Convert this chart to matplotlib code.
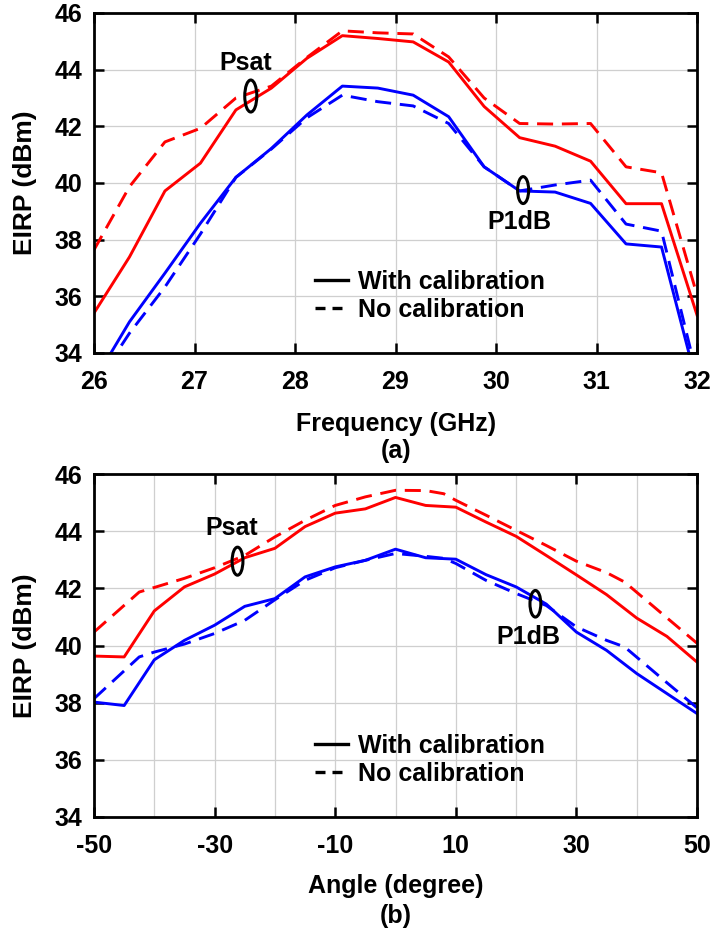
import matplotlib
matplotlib.use('Agg')
import matplotlib.pyplot as plt
from matplotlib.patches import Ellipse
from matplotlib.lines import Line2D

plt.rcParams['font.family'] = ['Liberation Sans', 'DejaVu Sans']
plt.rcParams['font.weight'] = 'bold'
plt.rcParams['axes.unicode_minus'] = False

# ---------------- data: (a) EIRP vs frequency ----------------
freq = [26.0, 26.353, 26.706, 27.059, 27.412, 27.765, 28.118, 28.471, 28.824,
        29.176, 29.529, 29.882, 30.235, 30.588, 30.941, 31.294, 31.647, 32.0]
psat_cal_f = [35.41, 37.39, 39.72, 40.70, 42.58, 43.35, 44.40, 45.20, 45.10,
              44.98, 44.27, 42.70, 41.60, 41.30, 40.77, 39.27, 39.27, 35.34]
psat_nocal_f = [37.64, 39.87, 41.45, 41.93, 43.00, 43.42, 44.43, 45.37, 45.30,
                45.26, 44.45, 43.00, 42.10, 42.08, 42.10, 40.57, 40.36, 36.05]
p1db_cal_f = [33.00, 35.10, 36.82, 38.58, 40.20, 41.22, 42.40, 43.42, 43.35,
              43.10, 42.34, 40.57, 39.72, 39.68, 39.28, 37.85, 37.74, 32.90]
p1db_nocal_f = [32.80, 34.70, 36.33, 38.20, 40.20, 41.20, 42.30, 43.10, 42.87,
                42.72, 42.10, 40.57, 39.72, 39.93, 40.10, 38.55, 38.30, 33.20]

# ---------------- data: (b) EIRP vs angle ----------------
angle_cal = [-50, -45, -40, -35, -30, -25, -20, -15, -10, -5, 0, 5, 10, 15,
             20, 25, 30, 35, 40, 45, 50]
psat_cal_a = [39.63, 39.60, 41.21, 42.05, 42.50, 43.07, 43.40, 44.16, 44.63,
              44.78, 45.18, 44.90, 44.84, 44.32, 43.82, 43.15, 42.47, 41.78,
              40.96, 40.32, 39.42]
p1db_cal_a = [38.02, 37.90, 39.50, 40.18, 40.71, 41.37, 41.64, 42.40, 42.75,
              42.98, 43.37, 43.07, 43.02, 42.48, 42.05, 41.45, 40.47, 39.83,
              39.02, 38.32, 37.62]
angle_nocal = [-50, -42.5, -40, -35, -30, -25, -20, -15, -10, -5, 0, 5, 8, 10,
               15, 20, 25, 30, 35, 38, 45, 50]
psat_nocal_a = [40.47, 41.87, 42.03, 42.35, 42.72, 43.15, 43.80, 44.38, 44.90,
                45.20, 45.43, 45.42, 45.31, 45.08, 44.56, 44.03, 43.50, 42.95,
                42.55, 42.22, 40.97, 40.08]
p1db_nocal_a = [38.14, 39.60, 39.77, 40.05, 40.42, 40.88, 41.60, 42.28, 42.72,
                42.98, 43.22, 43.12, 43.05, 42.87, 42.28, 41.82, 41.40, 40.65,
                40.18, 39.95, 38.70, 37.82]

yticks = [34, 36, 38, 40, 42, 44, 46]
xticks_f = [26, 27, 28, 29, 30, 31, 32]
xticks_a = [-50, -30, -10, 10, 30, 50]
xminor_a = [-40, -20, 0, 20, 40]
legend_labels = ['With calibration', 'No calibration']

FS = 18
W, H = 713, 934
fig = plt.figure(figsize=(W / 100, H / 100), dpi=100)


def px_axes(left, top, right, bottom):
    return [left / W, 1 - bottom / H, (right - left) / W, (bottom - top) / H]


ax1 = fig.add_axes(px_axes(94, 13, 697, 353))
ax2 = fig.add_axes(px_axes(94, 474, 697, 817))

dash = (0, (5.5, 3.0))
LW = 2.1


def style(ax):
    for s in ax.spines.values():
        s.set_linewidth(2.0)
        s.set_zorder(6)
    ax.tick_params(which='major', direction='in', length=7, width=1.8,
                   top=True, right=True, labelsize=FS)
    ax.tick_params(which='minor', direction='in', length=0, top=True, right=True)
    ax.tick_params(axis='y', pad=8.5)
    ax.tick_params(axis='x', pad=12)
    ax.grid(True, which='both', color='#cfcfcf', linewidth=0.9)
    ax.set_axisbelow(True)
    ax.set_ylim(34, 46)
    ax.set_yticks(yticks)
    for lab in ax.get_xticklabels() + ax.get_yticklabels():
        lab.set_fontweight('bold')


# ---- (a)
ax1.plot(freq, psat_cal_f, color='red', lw=LW)
ax1.plot(freq, psat_nocal_f, color='red', lw=LW, linestyle=dash)
ax1.plot(freq, p1db_cal_f, color='blue', lw=LW)
ax1.plot(freq, p1db_nocal_f, color='blue', lw=LW, linestyle=dash)
ax1.set_xlim(26, 32)
ax1.set_xticks(xticks_f)
style(ax1)

# ---- (b)
ax2.plot(angle_cal, psat_cal_a, color='red', lw=LW)
ax2.plot(angle_nocal, psat_nocal_a, color='red', lw=LW, linestyle=dash)
ax2.plot(angle_cal, p1db_cal_a, color='blue', lw=LW)
ax2.plot(angle_nocal, p1db_nocal_a, color='blue', lw=LW, linestyle=dash)
ax2.set_xlim(-50, 50)
ax2.set_xticks(xticks_a)
ax2.set_xticks(xminor_a, minor=True)
style(ax2)

# legends
handles = [Line2D([], [], color='black', lw=2.4),
           Line2D([], [], color='black', lw=2.4, dashes=(3.0, 2.1))]
for ax, yanc in ((ax1, 0.244), (ax2, 0.242)):
    ax.legend(handles, legend_labels, loc='upper left',
              bbox_to_anchor=(0.3665, yanc), frameon=False,
              prop={'weight': 'bold', 'size': FS}, borderpad=0,
              borderaxespad=0, handlelength=1.32, handletextpad=0.4,
              labelspacing=0.16)

# annotations
ax1.text(27.51, 44.24, 'Psat', ha='center', va='center', fontsize=FS, fontweight='bold')
ax1.add_patch(Ellipse((27.56, 43.07), 0.12, 1.13, fill=False, ec='black', lw=2.2, zorder=7))
ax1.text(30.23, 38.62, 'P1dB', ha='center', va='center', fontsize=FS, fontweight='bold')
ax1.add_patch(Ellipse((30.27, 39.75), 0.11, 0.95, fill=False, ec='black', lw=2.2, zorder=7))

ax2.text(-27.1, 44.1, 'Psat', ha='center', va='center', fontsize=FS, fontweight='bold')
ax2.add_patch(Ellipse((-26.2, 42.95), 1.8, 0.98, fill=False, ec='black', lw=2.2, zorder=7))
ax2.text(22.0, 40.29, 'P1dB', ha='center', va='center', fontsize=FS, fontweight='bold')
ax2.add_patch(Ellipse((23.2, 41.46), 1.8, 0.93, fill=False, ec='black', lw=2.2, zorder=7))


# axis labels and captions
def ftext(x, y, s, **kw):
    fig.text(x / W, 1 - y / H, s, ha='center', va='center', fontweight='bold', **kw)


ftext(396, 424, 'Frequency (GHz)', fontsize=FS)
ftext(396, 451, '(a)', fontsize=FS)
ftext(396, 886, 'Angle (degree)', fontsize=FS)
ftext(396, 916, '(b)', fontsize=FS)
ftext(25, 183, 'EIRP (dBm)', fontsize=19, rotation=90)
ftext(25, 646, 'EIRP (dBm)', fontsize=19, rotation=90)

fig.savefig('out.png', dpi=100)
